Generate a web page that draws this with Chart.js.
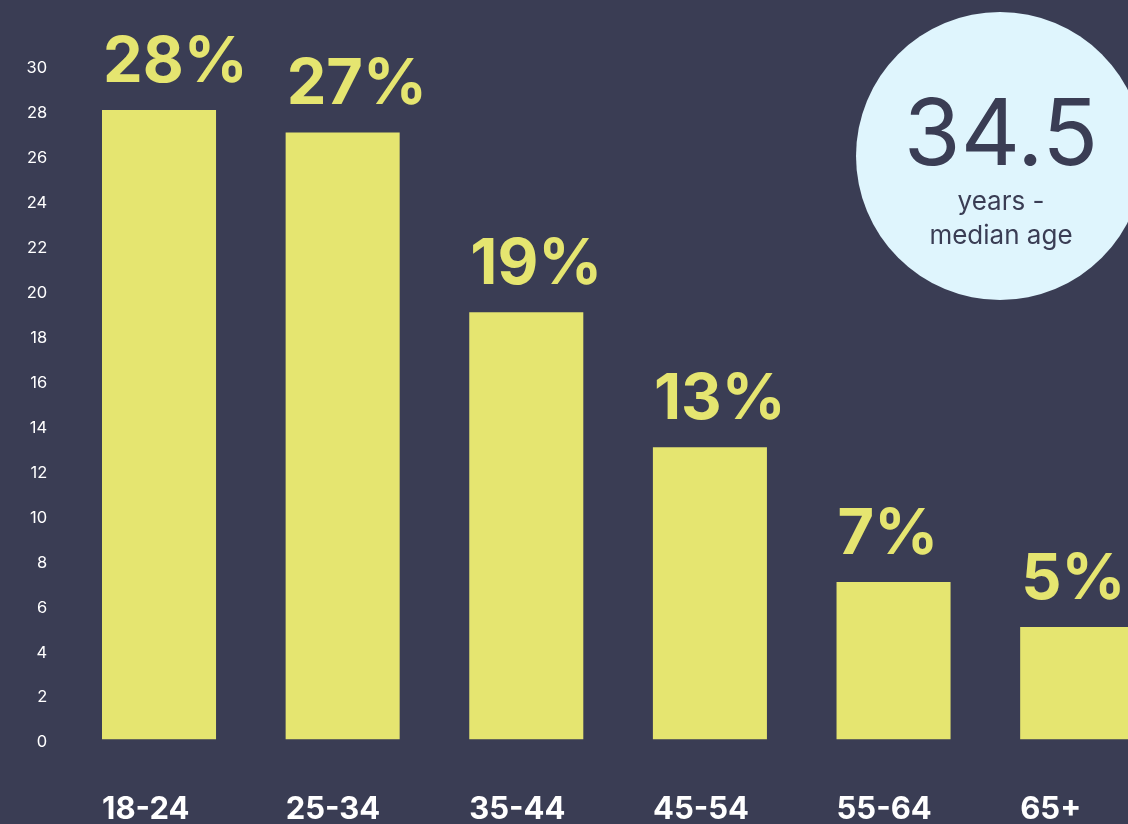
<!DOCTYPE html>
<html>
<head>
<meta charset="utf-8">
<script src="https://cdn.jsdelivr.net/npm/chart.js@4/dist/chart.umd.min.js"></script>
<style>
  html, body { margin: 0; padding: 0; background: #3a3d54; overflow: hidden; }
  #wrap { position: relative; width: 1169px; height: 824px; }
</style>
</head>
<body>
<div id="wrap"><canvas id="c"></canvas></div>
<script>
const categories = ['18-24', '25-34', '35-44', '45-54', '55-64', '65+'];
const shares = [28, 27, 19, 13, 7, 5];
const yTickMin = 0;
const yTickMax = 30;
const yTickStep = 2;
const medianAge = '34.5';
const medianLines = ['years -', 'median age'];

const BG = '#3a3d54';
const BAR = '#e5e570';
const FONT = 'Inter, "DejaVu Sans", sans-serif';

const valueLabels = {
  id: 'valueLabels',
  afterDatasetsDraw(chart) {
    const ctx = chart.ctx;
    const meta = chart.getDatasetMeta(0);
    ctx.save();
    ctx.fillStyle = BAR;
    ctx.font = '700 63px ' + FONT;
    ctx.textAlign = 'left';
    ctx.textBaseline = 'alphabetic';
    meta.data.forEach((bar, i) => {
      const left = bar.x - bar.width / 2;
      ctx.fillText(shares[i] + '%', left + 1, bar.y - 28);
    });
    ctx.restore();
  }
};

const medianBadge = {
  id: 'medianBadge',
  afterDraw(chart) {
    const ctx = chart.ctx;
    ctx.save();
    ctx.fillStyle = '#dff5fd';
    ctx.beginPath();
    ctx.arc(1000, 156, 144, 0, Math.PI * 2);
    ctx.fill();
    ctx.fillStyle = BG;
    ctx.textAlign = 'center';
    ctx.textBaseline = 'alphabetic';
    ctx.font = '400 92px ' + FONT;
    ctx.fillText(medianAge, 1001, 165);
    ctx.font = '400 26px ' + FONT;
    ctx.fillText(medianLines[0], 1001, 210);
    ctx.fillText(medianLines[1], 1001, 244);
    ctx.restore();
  }
};

new Chart(document.getElementById('c'), {
  type: 'bar',
  data: {
    labels: categories,
    datasets: [{
      data: shares,
      backgroundColor: BAR,
      borderWidth: 0,
      barPercentage: 0.621,
      categoryPercentage: 1.0
    }]
  },
  options: {
    responsive: true,
    maintainAspectRatio: false,
    animation: false,
    layout: { padding: { top: 65, right: 0, left: 0, bottom: 0 } },
    plugins: { legend: { display: false }, tooltip: { enabled: false } },
    scales: {
      x: {
        grid: { display: false, drawTicks: false },
        border: { display: false },
        ticks: {
          color: '#ffffff',
          font: { family: FONT, size: 31, weight: '700' },
          align: 'start',
          labelOffset: -57,
          padding: 52,
          maxRotation: 0,
          autoSkip: false
        },
        afterFit(scale) {
          scale.height = 84.5;
          scale.paddingLeft = 0;
          scale.paddingRight = 0;
        }
      },
      y: {
        min: yTickMin,
        max: yTickMax,
        grid: { display: false, drawTicks: false },
        border: { display: false },
        ticks: {
          stepSize: yTickStep,
          color: '#ffffff',
          font: { family: FONT, size: 16.5, weight: '400' },
          padding: 20,
          labelOffset: 3
        },
        afterFit(scale) {
          scale.width = 67.2;
          scale.paddingTop = 0;
          scale.paddingBottom = 0;
        }
      }
    }
  },
  plugins: [valueLabels, medianBadge]
});
</script>
</body>
</html>
